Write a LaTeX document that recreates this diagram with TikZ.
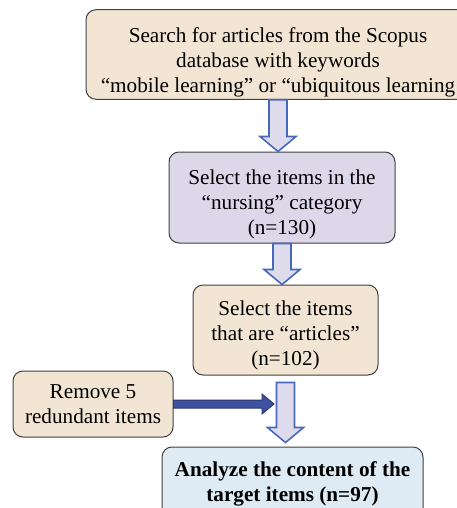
\documentclass[tikz,border=0pt]{standalone}
\usepackage{fontspec}
\setmainfont{Liberation Serif}
\usetikzlibrary{calc}
\definecolor{beige}{RGB}{243,229,211}
\definecolor{lavender}{RGB}{220,216,234}
\definecolor{paleblue}{RGB}{222,235,245}
\definecolor{arrowfill}{RGB}{221,219,236}
\definecolor{arrowline}{RGB}{72,104,188}
\definecolor{darkarrow}{RGB}{62,82,160}
\definecolor{darkline}{RGB}{44,58,120}
\definecolor{shadowtan}{RGB}{196,162,116}
\tikzset{
  stage/.style={draw=black!75, line width=1pt, rounded corners=10pt,
    align=center, inner sep=2pt, font=\fontsize{21.2}{25}\selectfont},
  fatarrow/.style={fill=arrowfill, draw=arrowline, line width=1.6pt},
  fatshadow/.style={fill=shadowtan, shift={(1.8,-1.2)}},
  sidearrow/.style={fill=darkarrow, draw=darkline, line width=1pt},
}
% invisible strut to push the first line down
\newcommand{\padtop}[1]{\rule{0pt}{#1}}
% block arrow pointing down, from #1 to #2
\newcommand{\blockdown}[2]{%
  let \p1=(#1), \p2=(#2), \n1={\y2+15pt} in
    (\x1-9pt,\y1) -- (\x1+9pt,\y1) -- (\x1+9pt,\n1) -- (\x1+18pt,\n1)
    -- (\x1,\y2) -- (\x1-18pt,\n1) -- (\x1-9pt,\n1) -- cycle}
% block arrow pointing right, from #1 to #2
\newcommand{\blockright}[2]{%
  let \p1=(#1), \p2=(#2), \n1={\x2-12pt} in
    (\x1,\y1+4pt) -- (\n1,\y1+4pt) -- (\n1,\y1+10pt) -- (\x2,\y1)
    -- (\n1,\y1-10pt) -- (\n1,\y1-4pt) -- (\x1,\y1-4pt) -- cycle}
\begin{document}
\begin{tikzpicture}[x=1pt, y=1pt]
  \useasboundingbox (0,0) rectangle (457,-508);

  \node[stage, fill=beige, minimum width=384, minimum height=85] (search) at (278,-54.5)
    {\padtop{31pt}Search for articles from the Scopus\\database with keywords\\``mobile learning'' or ``ubiquitous learning};
  \node[stage, fill=lavender, minimum width=226, minimum height=91] (nursing) at (282,-197.5)
    {\padtop{28pt}Select the items in the\\``nursing'' category\\(n=130)};
  \node[stage, fill=beige, minimum width=185, minimum height=90] (articles) at (285.5,-330)
    {\padtop{25pt}Select the items\\that are ``articles''\\(n=102)};
  \node[stage, fill=beige, minimum width=160, minimum height=66] (remove) at (93,-404)
    {Remove 5\\redundant items};
  \node[stage, fill=paleblue, minimum width=261, minimum height=73, font=\fontsize{21.2}{25}\selectfont\bfseries] (analyze) at (292.5,-483.5)
    {Analyze the content of the\\target items (n=97)};

  \coordinate (top3) at ($(articles.south)+(0,-7)$);
  \coordinate (tip3) at ($(analyze.north)+(-6.5,4)$);
  \coordinate (side) at (274,-404);

  \fill[fatshadow] \blockdown{search.south}{nursing.north};
  \draw[fatarrow] \blockdown{search.south}{nursing.north};
  \fill[fatshadow] \blockdown{nursing.south}{articles.north};
  \draw[fatarrow] \blockdown{nursing.south}{articles.north};
  \fill[fatshadow] \blockdown{top3}{tip3};
  \draw[fatarrow] \blockdown{top3}{tip3};
  \draw[sidearrow] \blockright{remove.east}{side};
\end{tikzpicture}
\end{document}
